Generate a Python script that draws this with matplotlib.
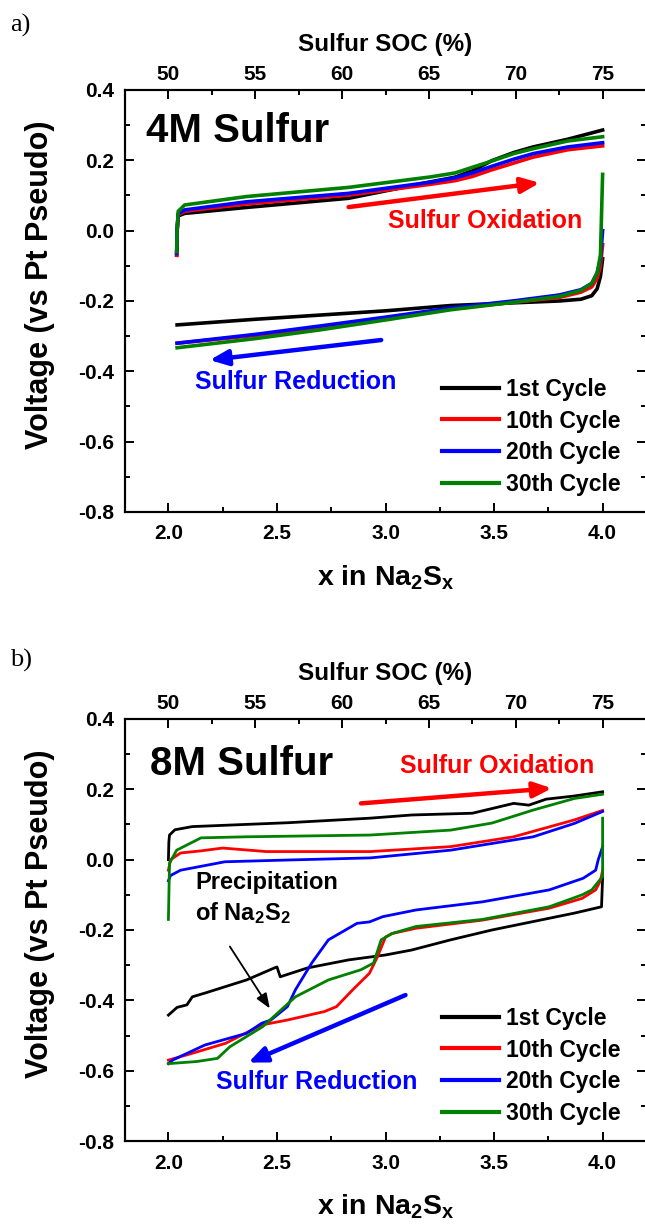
import numpy as np
import matplotlib.pyplot as plt
from matplotlib.ticker import MultipleLocator, FormatStrFormatter

plt.rcParams['font.family'] = ['Liberation Sans', 'DejaVu Sans']
plt.rcParams['font.weight'] = 'bold'
plt.rcParams['axes.unicode_minus'] = False
plt.rcParams['mathtext.fontset'] = 'custom'
plt.rcParams['mathtext.rm'] = 'Liberation Sans:bold'
plt.rcParams['mathtext.it'] = 'Liberation Sans:bold'
plt.rcParams['mathtext.bf'] = 'Liberation Sans:bold'

# ---- data ----
cycle_labels = ['1st Cycle', '10th Cycle', '20th Cycle', '30th Cycle']
cycle_colors = ['black', '#ff0000', '#0000ff', '#008000']

x_ticks = [2.0, 2.5, 3.0, 3.5, 4.0]
y_ticks = [-0.8, -0.6, -0.4, -0.2, 0.0, 0.2, 0.4]
soc_ticks = [50, 55, 60, 65, 70, 75]

# 4M sulfur, oxidation (charge) branches
ox4_x = [2.038, 2.040, 2.045, 2.075, 2.36, 2.83, 3.21, 3.32, 3.40, 3.49, 3.59, 3.68, 3.84, 4.0]
ox4_c1 = [-0.07, 0.0, 0.042, 0.049, 0.066, 0.092, 0.139, 0.152, 0.170, 0.199, 0.222, 0.238, 0.260, 0.286]
ox4_c10 = [-0.07, 0.0, 0.045, 0.055, 0.076, 0.101, 0.132, 0.142, 0.154, 0.173, 0.192, 0.209, 0.230, 0.241]
ox4_c20 = [-0.065, 0.0, 0.048, 0.059, 0.082, 0.106, 0.138, 0.150, 0.164, 0.183, 0.203, 0.219, 0.238, 0.250]
ox4_c30 = [-0.06, 0.0, 0.055, 0.073, 0.097, 0.123, 0.153, 0.164, 0.180, 0.198, 0.219, 0.233, 0.255, 0.267]

# 4M sulfur, reduction (discharge) branches
red4_x = [4.0, 3.99, 3.975, 3.95, 3.9, 3.8, 3.6, 3.3, 3.0, 2.7, 2.4, 2.04]
red4_c1 = [-0.08, -0.13, -0.165, -0.185, -0.195, -0.200, -0.205, -0.213, -0.228, -0.240, -0.252, -0.268]
red4_c10 = [-0.04, -0.10, -0.135, -0.160, -0.175, -0.190, -0.203, -0.222, -0.250, -0.274, -0.298, -0.320]
red4_c20 = [0.0, -0.08, -0.120, -0.150, -0.168, -0.183, -0.199, -0.220, -0.246, -0.271, -0.295, -0.320]
red4_c30 = [0.16, -0.07, -0.120, -0.150, -0.170, -0.187, -0.203, -0.225, -0.254, -0.282, -0.307, -0.333]

# 8M sulfur, oxidation branches
ox8_c1_x = [2.0, 2.002, 2.005, 2.03, 2.11, 2.55, 2.93, 3.12, 3.40, 3.59, 3.66, 3.74, 3.87, 4.0]
ox8_c1 = [0.0, 0.05, 0.070, 0.085, 0.094, 0.105, 0.118, 0.127, 0.132, 0.160, 0.155, 0.172, 0.181, 0.193]
ox8_c10_x = [2.0, 2.01, 2.056, 2.15, 2.25, 2.45, 2.93, 3.30, 3.59, 3.87, 4.0]
ox8_c10 = [-0.03, 0.0, 0.019, 0.025, 0.033, 0.023, 0.023, 0.037, 0.065, 0.113, 0.140]
ox8_c20_x = [2.0, 2.01, 2.056, 2.26, 2.55, 2.93, 3.30, 3.68, 3.87, 4.0]
ox8_c20 = [-0.06, -0.045, -0.030, -0.006, -0.001, 0.005, 0.027, 0.065, 0.103, 0.137]
ox8_c30_x = [2.0, 2.005, 2.038, 2.15, 2.36, 2.93, 3.30, 3.49, 3.68, 3.87, 4.0]
ox8_c30 = [-0.17, -0.01, 0.027, 0.062, 0.065, 0.070, 0.084, 0.104, 0.141, 0.174, 0.186]

# 8M sulfur, reduction branches
red8_c1_x = [4.0, 3.995, 3.87, 3.68, 3.49, 3.30, 3.12, 3.0, 2.83, 2.64, 2.515, 2.50, 2.48, 2.36, 2.17, 2.11, 2.085, 2.04, 2.0]
red8_c1 = [-0.05, -0.134, -0.152, -0.176, -0.200, -0.228, -0.257, -0.271, -0.285, -0.308, -0.333, -0.305, -0.310,
           -0.342, -0.379, -0.390, -0.413, -0.420, -0.442]
red8_c10_x = [4.0, 3.99, 3.968, 3.906, 3.754, 3.446, 3.141, 3.03, 3.0, 2.963, 2.926, 2.849, 2.774, 2.718, 2.548,
              2.43, 2.264, 2.113, 2.0]
red8_c10 = [-0.03, -0.06, -0.086, -0.110, -0.138, -0.172, -0.195, -0.210, -0.220, -0.276, -0.323, -0.370, -0.418,
            -0.432, -0.456, -0.470, -0.522, -0.550, -0.570]
red8_c20_x = [4.0, 3.98, 3.968, 3.91, 3.754, 3.446, 3.141, 2.988, 2.926, 2.869, 2.737, 2.66, 2.585, 2.548, 2.472,
              2.43, 2.359, 2.168, 2.019, 2.0]
red8_c20 = [0.037, 0.0, -0.03, -0.053, -0.086, -0.120, -0.143, -0.162, -0.177, -0.181, -0.228, -0.294, -0.370,
            -0.418, -0.456, -0.465, -0.494, -0.527, -0.570, -0.580]
red8_c30_x = [4.0, 4.0, 3.95, 3.906, 3.754, 3.446, 3.141, 3.03, 2.98, 2.945, 2.887, 2.737, 2.585, 2.434, 2.283,
              2.226, 2.13, 2.0]
red8_c30 = [0.118, -0.048, -0.086, -0.100, -0.134, -0.170, -0.190, -0.210, -0.228, -0.294, -0.313, -0.342, -0.390,
            -0.475, -0.532, -0.565, -0.574, -0.580]


def x_to_soc(x):
    return 12.5 * np.asarray(x) + 25.0


def setup_axes(ax):
    ax.set_xlim(1.8, 4.2)
    ax.set_ylim(-0.8, 0.4)
    ax.set_xticks(x_ticks)
    ax.set_yticks(y_ticks)
    ax.xaxis.set_minor_locator(MultipleLocator(0.25))
    ax.yaxis.set_minor_locator(MultipleLocator(0.1))
    ax.xaxis.set_major_formatter(FormatStrFormatter('%.1f'))
    ax.yaxis.set_major_formatter(FormatStrFormatter('%.1f'))
    ax.tick_params(which='both', direction='in', width=1.4, right=True, top=False)
    ax.tick_params(which='major', length=6.5)
    ax.tick_params(which='minor', length=3.6)
    ax.tick_params(axis='x', pad=9, labelsize=15)
    ax.tick_params(axis='y', pad=8, labelsize=15)
    for s in ax.spines.values():
        s.set_linewidth(1.5)

    top = ax.twiny()
    top.set_xlim(x_to_soc(1.8), x_to_soc(4.2))
    top.set_xticks(soc_ticks)
    top.xaxis.set_minor_locator(MultipleLocator(2.5))
    top.tick_params(which='both', direction='in', width=1.4, pad=4, labelsize=15)
    top.tick_params(which='major', length=6.5)
    top.tick_params(which='minor', length=3.6)
    for s in top.spines.values():
        s.set_linewidth(1.5)

    ax.text(0.5, 1.081, 'Sulfur SOC (%)', transform=ax.transAxes, ha='center', va='bottom',
            fontsize=17.5, fontweight='bold')
    ax.set_xlabel('x in Na$_2$S$_x$', fontsize=20.5, fontweight='bold', va='top')
    ax.xaxis.set_label_coords(0.5, -0.121)
    ax.set_ylabel('Voltage (vs Pt Pseudo)', fontsize=22, fontweight='bold')
    ax.yaxis.set_label_coords(-0.134, 0.538)


def arrow(ax, start, end, color, lw, scale, hl, hw):
    ax.annotate('', xy=end, xytext=start,
                arrowprops=dict(arrowstyle=f'-|>,head_length={hl},head_width={hw}',
                                color=color, lw=lw, mutation_scale=scale,
                                shrinkA=0, shrinkB=0))


fig = plt.figure(figsize=(6.45, 12.24), dpi=100)
ax_a = fig.add_axes([0.1938, 0.5817, 0.8078, 0.3448])
ax_b = fig.add_axes([0.1938, 0.0678, 0.8078, 0.3448])

# ---- panel a ----
ox4 = [ox4_c1, ox4_c10, ox4_c20, ox4_c30]
red4 = [red4_c1, red4_c10, red4_c20, red4_c30]
for lab, col, yo, yr in zip(cycle_labels, cycle_colors, ox4, red4):
    ax_a.plot(ox4_x, yo, color=col, lw=2.6, label=lab)
    ax_a.plot(red4_x, yr, color=col, lw=2.6)

setup_axes(ax_a)
ax_a.text(1.897, 0.252, '4M Sulfur', fontsize=29, fontweight='bold', va='baseline')
ax_a.text(3.46, 0.027, 'Sulfur Oxidation', color='#ff0000', fontsize=18, fontweight='bold',
          ha='center', va='center')
ax_a.text(2.585, -0.429, 'Sulfur Reduction', color='#0000ff', fontsize=18, fontweight='bold',
          ha='center', va='center')
arrow(ax_a, (2.83, 0.067), (3.71, 0.136), '#ff0000', 3.2, 15, 0.73, 0.31)
arrow(ax_a, (2.98, -0.311), (2.19, -0.368), '#0000ff', 3.2, 15, 0.73, 0.31)

# ---- panel b ----
ox8 = [(ox8_c1_x, ox8_c1), (ox8_c10_x, ox8_c10), (ox8_c20_x, ox8_c20), (ox8_c30_x, ox8_c30)]
red8 = [(red8_c1_x, red8_c1), (red8_c10_x, red8_c10), (red8_c20_x, red8_c20), (red8_c30_x, red8_c30)]
for lab, col, (xo, yo), (xr, yr) in zip(cycle_labels, cycle_colors, ox8, red8):
    ax_b.plot(xo, yo, color=col, lw=2.0, label=lab)
    ax_b.plot(xr, yr, color=col, lw=2.0)

setup_axes(ax_b)
ax_b.text(1.915, 0.241, '8M Sulfur', fontsize=29, fontweight='bold', va='baseline')
ax_b.text(3.515, 0.266, 'Sulfur Oxidation', color='#ff0000', fontsize=18, fontweight='bold',
          ha='center', va='center')
ax_b.text(2.683, -0.632, 'Sulfur Reduction', color='#0000ff', fontsize=18, fontweight='bold',
          ha='center', va='center')
ax_b.text(2.122, -0.11, 'Precipitation\nof Na$_2$S$_2$', fontsize=17, fontweight='bold',
          ha='left', va='center', linespacing=1.3)
arrow(ax_b, (2.887, 0.160), (3.766, 0.203), '#ff0000', 3.2, 15, 0.73, 0.31)
arrow(ax_b, (3.092, -0.385), (2.368, -0.577), '#0000ff', 3.2, 15, 0.73, 0.31)
arrow(ax_b, (2.283, -0.247), (2.467, -0.423), 'black', 1.3, 10, 0.9, 0.35)

for ax in (ax_a, ax_b):
    leg = ax.legend(loc='upper left', bbox_to_anchor=(0.608, 0.318), frameon=False,
                    handlelength=2.5, handletextpad=0.3, labelspacing=0.38, borderpad=0,
                    borderaxespad=0, prop={'weight': 'bold', 'size': 16.5})
    for h in leg.get_lines():
        h.set_linewidth(3.0)

fig.text(10 / 645, 1 - 32 / 1224, 'a)', family='Liberation Serif', fontweight='normal',
         fontsize=19, va='baseline')
fig.text(10 / 645, 1 - 667 / 1224, 'b)', family='Liberation Serif', fontweight='normal',
         fontsize=19, va='baseline')

fig.savefig('out.png', dpi=100)
